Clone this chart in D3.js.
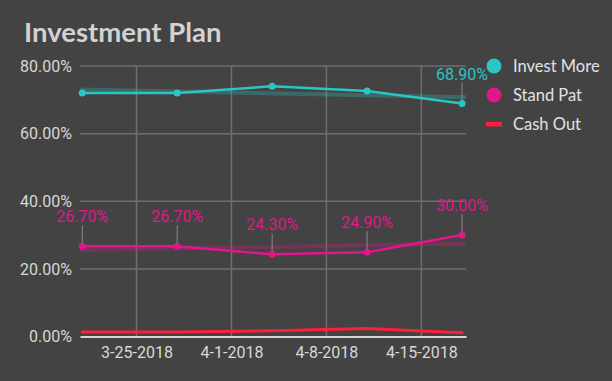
<!DOCTYPE html>
<html>
<head>
<meta charset="utf-8">
<script src="https://cdn.jsdelivr.net/npm/d3@7/dist/d3.min.js"></script>
<style>
  html, body { margin: 0; padding: 0; background: #434343; }
  svg { display: block; }
</style>
</head>
<body>
<svg id="chart" width="612" height="381"></svg>
<script>
// ---- data ----
const dates = ["2018-03-21", "2018-03-28", "2018-04-04", "2018-04-11", "2018-04-18"];
const investMore = [72.0, 72.0, 74.0, 72.6, 68.9];
const standPat = [26.7, 26.7, 24.3, 24.9, 30.0];
const cashOut = [1.3, 1.3, 1.7, 2.4, 1.1];
const yTicks = [0, 20, 40, 60, 80];
const xTickDates = ["2018-03-25", "2018-04-01", "2018-04-08", "2018-04-15"];
const seriesNames = ["Invest More", "Stand Pat", "Cash Out"];
const investLabels = [false, false, false, false, true];
const standLabels = [true, true, true, true, true];

const colors = { invest: "#2cc5c5", stand: "#e0168a", cash: "#ff1e3c" };

const parse = d3.timeParse("%Y-%m-%d");
const dts = dates.map(parse);

const svg = d3.select("#chart");
const pLeft = 80, pRight = 466, pTop = 66, pBottom = 336.5;

const x = d3.scaleTime()
  .domain([d3.timeHour.offset(dts[0], -4), d3.timeHour.offset(dts[dts.length - 1], 7)])
  .range([pLeft, pRight]);
const y = d3.scaleLinear().domain([0, 80]).range([pBottom, pTop]);

// title
svg.append("text").attr("x", 24).attr("y", 42)
  .attr("font-family", "Lato").attr("font-weight", "bold").attr("font-size", 27.5)
  .attr("fill", "#d2d2d2").text("Investment Plan");

// grid
const g = svg.append("g");
g.selectAll("line.h").data(yTicks.filter(d => d > 0)).join("line")
  .attr("x1", pLeft).attr("x2", pRight)
  .attr("y1", d => y(d)).attr("y2", d => y(d))
  .attr("stroke", "#6e6e6e").attr("stroke-width", 1.5);
g.selectAll("line.v").data(xTickDates.map(parse)).join("line")
  .attr("x1", d => x(d)).attr("x2", d => x(d))
  .attr("y1", pTop).attr("y2", pBottom)
  .attr("stroke", "#6e6e6e").attr("stroke-width", 1.5);

// y axis labels
const yAxis = svg.append("g").attr("transform", `translate(${pLeft},0)`)
  .call(d3.axisLeft(y).tickValues(yTicks).tickSize(0).tickPadding(8)
    .tickFormat(d => d.toFixed(2) + "%"));
yAxis.select(".domain").remove();
yAxis.selectAll("text").attr("font-family", "Roboto").attr("font-size", 16).attr("fill", "#d8d8d8");

// x axis
const xAxis = svg.append("g").attr("transform", `translate(0,${pBottom})`)
  .call(d3.axisBottom(x).tickValues(xTickDates.map(parse)).tickSize(0).tickPadding(10)
    .tickFormat(d => `${d.getMonth() + 1}-${d.getDate()}-${d.getFullYear()}`));
xAxis.select(".domain").attr("stroke", "#d6d6d6").attr("stroke-width", 2);
xAxis.selectAll("text").attr("font-family", "Roboto").attr("font-size", 16).attr("fill", "#d8d8d8");

// trend lines (least squares fit of each series)
function trend(vals) {
  const n = vals.length, xs = d3.range(n);
  const mx = d3.mean(xs), my = d3.mean(vals);
  const slope = d3.sum(xs, (xi, i) => (xi - mx) * (vals[i] - my)) / d3.sum(xs, xi => (xi - mx) ** 2);
  const weekMs = 7 * 864e5;
  const t0 = dts[0].getTime();
  const f = t => my + slope * ((t - t0) / weekMs - mx);
  const [d0, d1] = x.domain();
  return [[d0, f(d0.getTime())], [d1, f(d1.getTime())]];
}
const lineT = d3.line().x(d => x(d[0])).y(d => y(d[1]));
[[investMore, colors.invest], [standPat, colors.stand]].forEach(([vals, c]) => {
  svg.append("path").attr("d", lineT(trend(vals)))
    .attr("stroke", c).attr("stroke-width", 4).attr("stroke-opacity", 0.3).attr("fill", "none");
});

// series lines
const line = d3.line().x((d, i) => x(dts[i])).y(d => y(d));
function drawSeries(vals, c, w, markers) {
  svg.append("path").attr("d", line(vals)).attr("stroke", c).attr("stroke-width", w)
    .attr("fill", "none").attr("stroke-linejoin", "round").attr("stroke-linecap", "round");
  if (markers) {
    svg.append("g").selectAll("circle").data(vals).join("circle")
      .attr("cx", (d, i) => x(dts[i])).attr("cy", d => y(d)).attr("r", 3.5).attr("fill", c);
  }
}
drawSeries(cashOut, colors.cash, 3, false);
drawSeries(standPat, colors.stand, 2.5, true);
drawSeries(investMore, colors.invest, 2.5, true);

// data labels with leader lines
function drawLabels(vals, flags, c) {
  vals.forEach((v, i) => {
    if (!flags[i]) return;
    const px = x(dts[i]), py = y(v);
    svg.append("line").attr("x1", px).attr("x2", px).attr("y1", py - 21).attr("y2", py - 3)
      .attr("stroke", "#8a8a8a").attr("stroke-width", 1);
    svg.append("text").attr("x", px).attr("y", py - 24).attr("text-anchor", "middle")
      .attr("font-family", "Roboto").attr("font-size", 16).attr("fill", c)
      .text(v.toFixed(2) + "%");
  });
}
drawLabels(standPat, standLabels, colors.stand);
drawLabels(investMore, investLabels, colors.invest);

// legend
const legend = svg.append("g");
const legendColors = [colors.invest, colors.stand, colors.cash];
seriesNames.forEach((name, i) => {
  const ly = 66 + i * 29;
  if (i < 2) {
    legend.append("circle").attr("cx", 494).attr("cy", ly).attr("r", 7.5).attr("fill", legendColors[i]);
  } else {
    legend.append("rect").attr("x", 486).attr("y", ly - 2).attr("width", 16).attr("height", 4.5)
      .attr("fill", legendColors[i]);
  }
  legend.append("text").attr("x", 513).attr("y", ly).attr("dy", "0.36em")
    .attr("font-family", "Lato").attr("font-size", 16.5).attr("fill", "#e2e2e2").text(name);
});
</script>
</body>
</html>
